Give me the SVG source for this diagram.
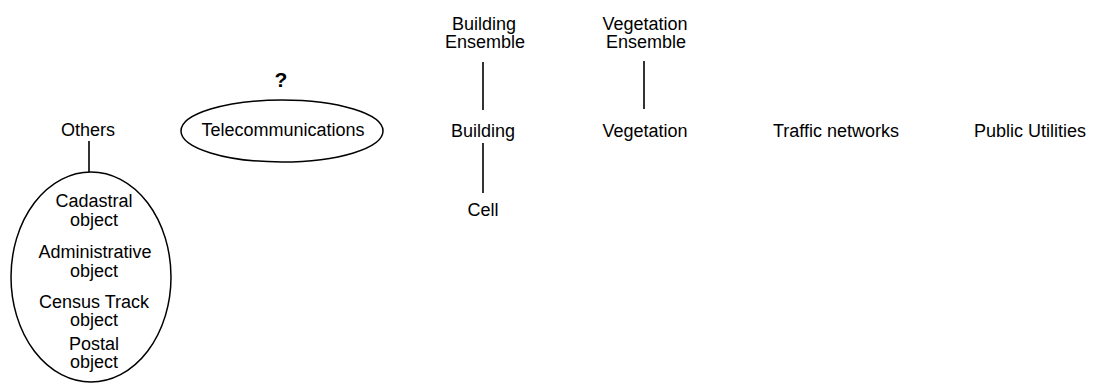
<svg xmlns="http://www.w3.org/2000/svg" width="1094" height="385" viewBox="0 0 1094 385">
  <style>
    text { font-family: "Liberation Sans", Arial, sans-serif; font-size: 18px; fill: #000; text-anchor: middle; }
    .q { font-weight: bold; font-size: 21px; }
    .shape { fill: none; stroke: #000; stroke-width: 1.5; }
    .link { stroke: #000; stroke-width: 1.6; }
  </style>
  <rect width="1094" height="385" fill="#fff"/>

  <!-- connectors -->
  <g id="connectors">
    <line class="link" x1="89" y1="141" x2="89" y2="172"/>
    <line class="link" x1="483" y1="62" x2="483" y2="110"/>
    <line class="link" x1="483" y1="143" x2="483" y2="193"/>
    <line class="link" x1="644" y1="61" x2="644" y2="109"/>
  </g>

  <g id="others">
    <text x="88" y="136">Others</text>
  </g>

  <g id="others-group">
    <ellipse class="shape" cx="91" cy="277" rx="80" ry="105"/>
    <text x="94" y="207">Cadastral</text>
    <text x="94" y="226">object</text>
    <text x="95" y="258">Administrative</text>
    <text x="94" y="277">object</text>
    <text x="94" y="308">Census Track</text>
    <text x="94" y="326">object</text>
    <text x="94" y="350">Postal</text>
    <text x="94" y="368">object</text>
  </g>

  <g id="telecommunications">
    <text class="q" x="281" y="87">?</text>
    <ellipse class="shape" cx="282" cy="131" rx="101" ry="31"/>
    <text x="283" y="136">Telecommunications</text>
  </g>

  <g id="building-ensemble">
    <text x="484" y="30">Building</text>
    <text x="485" y="48">Ensemble</text>
  </g>

  <g id="building">
    <text x="483" y="137">Building</text>
  </g>

  <g id="cell">
    <text x="483" y="216">Cell</text>
  </g>

  <g id="vegetation-ensemble">
    <text x="645" y="30">Vegetation</text>
    <text x="646" y="48">Ensemble</text>
  </g>

  <g id="vegetation">
    <text x="645" y="137">Vegetation</text>
  </g>

  <g id="traffic-networks">
    <text x="836" y="137">Traffic networks</text>
  </g>

  <g id="public-utilities">
    <text x="1030" y="137">Public Utilities</text>
  </g>
</svg>
